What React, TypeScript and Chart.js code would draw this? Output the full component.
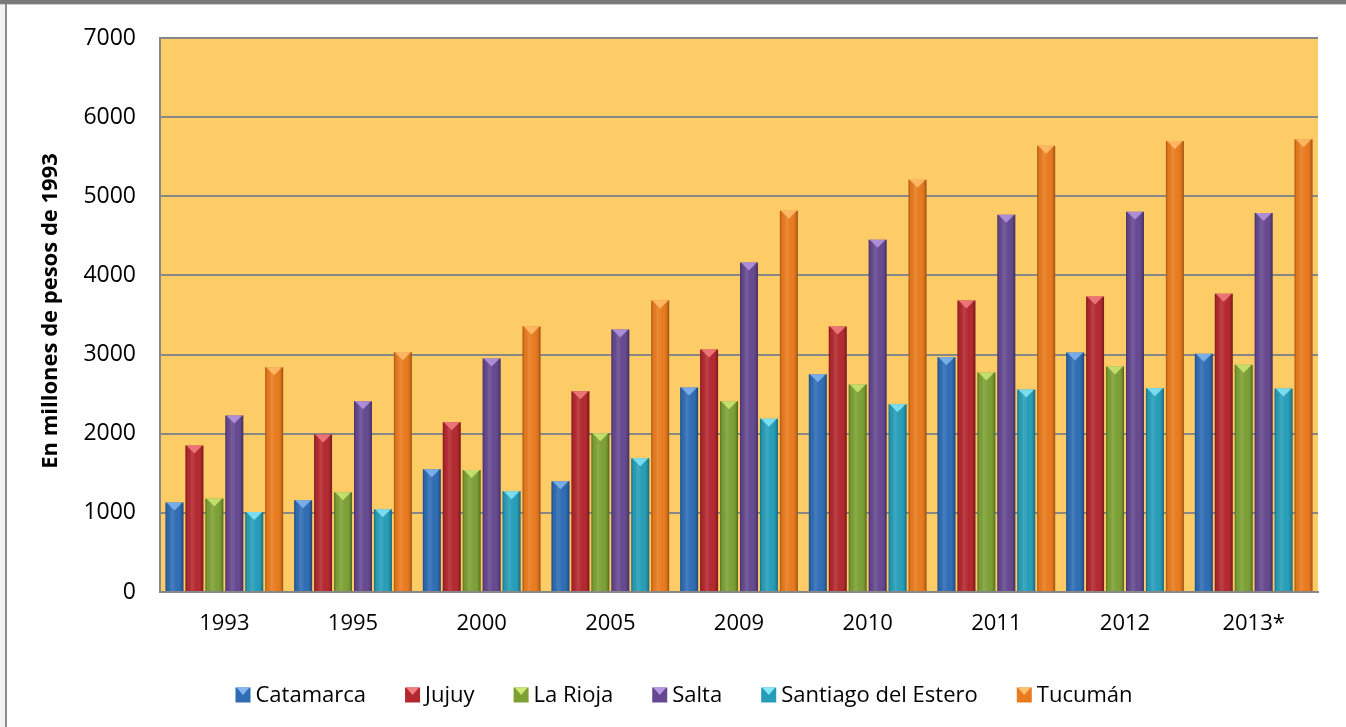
import { useEffect, useRef } from "react";
import { Chart, registerables } from "chart.js";

Chart.register(...registerables);

const categories = ["1993", "1995", "2000", "2005", "2009", "2010", "2011", "2012", "2013*"];
const catamarca = [1130, 1160, 1550, 1400, 2585, 2750, 2965, 3025, 3010];
const jujuy = [1850, 1990, 2145, 2535, 3065, 3355, 3683, 3733, 3770];
const laRioja = [1180, 1260, 1540, 2005, 2410, 2623, 2775, 2850, 2870];
const salta = [2230, 2410, 2950, 3317, 4162, 4452, 4767, 4805, 4790];
const santiago = [1010, 1045, 1274, 1690, 2190, 2371, 2560, 2573, 2570];
const tucuman = [2840, 3030, 3355, 3683, 4818, 5209, 5637, 5700, 5720];

const seriesNames = ["Catamarca", "Jujuy", "La Rioja", "Salta", "Santiago del Estero", "Tucumán"];
const seriesValues = [catamarca, jujuy, laRioja, salta, santiago, tucuman];
const seriesColors = ["#2e6cb4", "#b3282e", "#7ca034", "#65488f", "#269db8", "#e97a1d"];
const seriesLight = ["#86b6f0", "#f47f83", "#cfe874", "#b798e2", "#86e8f8", "#ffc16e"];

const yTicks = [0, 1000, 2000, 3000, 4000, 5000, 6000, 7000];
const yTitle = "En millones de pesos de 1993";

const FONT = "'Open Sans', sans-serif";
const GRID = "#878787";
const PLOT_BG = "#fecc67";

const framePlugin = {
  id: "frame",
  beforeDraw(chart: any) {
    const { ctx, width, height, chartArea } = chart;
    ctx.save();
    ctx.fillStyle = "#ffffff";
    ctx.fillRect(0, 0, width, height);
    ctx.fillStyle = "#f2f2f2";
    ctx.fillRect(0, 0, 5, height);
    ctx.fillStyle = "#7a7a7a";
    ctx.fillRect(0, 0, width, 4);
    ctx.fillStyle = "#d0d0d0";
    ctx.fillRect(0, 4, width, 1);
    ctx.fillStyle = "#8c8c8c";
    ctx.fillRect(5, 4, 2, height);
    ctx.fillStyle = PLOT_BG;
    ctx.fillRect(chartArea.left, chartArea.top, chartArea.right - chartArea.left, chartArea.bottom - chartArea.top);
    ctx.restore();
  },
};

const barShading = {
  id: "barShading",
  afterDatasetsDraw(chart: any) {
    const ctx = chart.ctx;
    ctx.save();
    chart.data.datasets.forEach((_ds: any, i: number) => {
      const meta = chart.getDatasetMeta(i);
      meta.data.forEach((bar: any) => {
        const { x, y, base, width } = bar.getProps(["x", "y", "base", "width"], true);
        const l = x - width / 2;
        const r = x + width / 2;
        const g = ctx.createLinearGradient(l, 0, r, 0);
        g.addColorStop(0, "rgba(0,0,0,0.30)");
        g.addColorStop(0.12, "rgba(0,0,0,0.02)");
        g.addColorStop(0.35, "rgba(255,255,255,0.12)");
        g.addColorStop(0.62, "rgba(255,255,255,0.0)");
        g.addColorStop(0.88, "rgba(0,0,0,0.10)");
        g.addColorStop(1, "rgba(0,0,0,0.36)");
        ctx.fillStyle = g;
        ctx.fillRect(l, y, width, base - y);
        const h = Math.min(8, (base - y) / 2);
        ctx.beginPath();
        ctx.moveTo(l + 1, y);
        ctx.lineTo(r - 1, y);
        ctx.lineTo(x, y + h);
        ctx.closePath();
        ctx.fillStyle = seriesLight[i];
        ctx.globalAlpha = 0.85;
        ctx.fill();
        ctx.globalAlpha = 1;
      });
    });
    ctx.restore();
  },
};

const titleLegendPlugin = {
  id: "titleLegend",
  afterDraw(chart: any) {
    const { ctx, chartArea } = chart;
    ctx.save();
    ctx.translate(51, (chartArea.top + chartArea.bottom) / 2 - 4);
    ctx.rotate(-Math.PI / 2);
    ctx.font = `bold 22px ${FONT}`;
    ctx.fillStyle = "#000";
    ctx.textAlign = "center";
    ctx.textBaseline = "middle";
    ctx.fillText(yTitle, 0, 0);
    ctx.restore();

    ctx.save();
    ctx.font = `22px ${FONT}`;
    ctx.textBaseline = "middle";
    ctx.textAlign = "left";
    const box = 15;
    const gapBoxText = 5;
    const widths = seriesNames.map((n) => box + gapBoxText + ctx.measureText(n).width);
    const totalTarget = 897;
    const sum = widths.reduce((a, b) => a + b, 0);
    const gap = Math.max(12, (totalTarget - sum) / (seriesNames.length - 1));
    const total = sum + gap * (seriesNames.length - 1);
    let x = 684 - total / 2;
    const cy = 695;
    seriesNames.forEach((n, i) => {
      ctx.fillStyle = seriesColors[i];
      ctx.fillRect(x, cy - box / 2, box, box);
      ctx.beginPath();
      ctx.moveTo(x + 1, cy - box / 2);
      ctx.lineTo(x + box - 1, cy - box / 2);
      ctx.lineTo(x + box / 2, cy);
      ctx.closePath();
      ctx.fillStyle = seriesLight[i];
      ctx.fill();
      ctx.fillStyle = "#000";
      ctx.fillText(n, x + box + gapBoxText, cy + 1);
      x += widths[i] + gap;
    });
    ctx.restore();
  },
};

export default function App() {
  const ref = useRef<HTMLCanvasElement | null>(null);

  useEffect(() => {
    if (!ref.current) return;
    const chart = new Chart(ref.current, {
      type: "bar",
      data: {
        labels: categories,
        datasets: seriesNames.map((name, i) => ({
          label: name,
          data: seriesValues[i],
          backgroundColor: seriesColors[i],
          borderWidth: 0,
          categoryPercentage: 0.93,
          barPercentage: 0.9,
        })),
      },
      options: {
        responsive: false,
        animation: false,
        layout: { padding: { left: 0, right: 28, top: 38, bottom: 85 } },
        plugins: {
          legend: { display: false },
          tooltip: { enabled: false },
          title: { display: false },
        },
        scales: {
          x: {
            grid: { display: false, drawTicks: false },
            border: { display: true, color: GRID, width: 2 },
            ticks: { color: "#000", font: { family: FONT, size: 22 }, padding: 19 },
            afterFit(scale: any) {
              scale.height = 50;
            },
          },
          y: {
            min: 0,
            max: 7000,
            afterBuildTicks(scale: any) {
              scale.ticks = yTicks.map((v) => ({ value: v }));
            },
            grid: { color: GRID, lineWidth: 2, drawTicks: false },
            border: { display: true, color: GRID, width: 2 },
            ticks: {
              color: "#000",
              font: { family: FONT, size: 23 },
              padding: 24,
              callback: (v: any) => String(v),
            },
            afterFit(scale: any) {
              scale.width = 160;
            },
          },
        },
      },
      plugins: [framePlugin, barShading, titleLegendPlugin],
    });
    return () => chart.destroy();
  }, []);

  return (
    <div style={{ position: "fixed", left: 0, top: 0, width: 1346, height: 727, background: "#fff" }}>
      <canvas ref={ref} width={1346} height={727} style={{ display: "block" }} />
    </div>
  );
}
